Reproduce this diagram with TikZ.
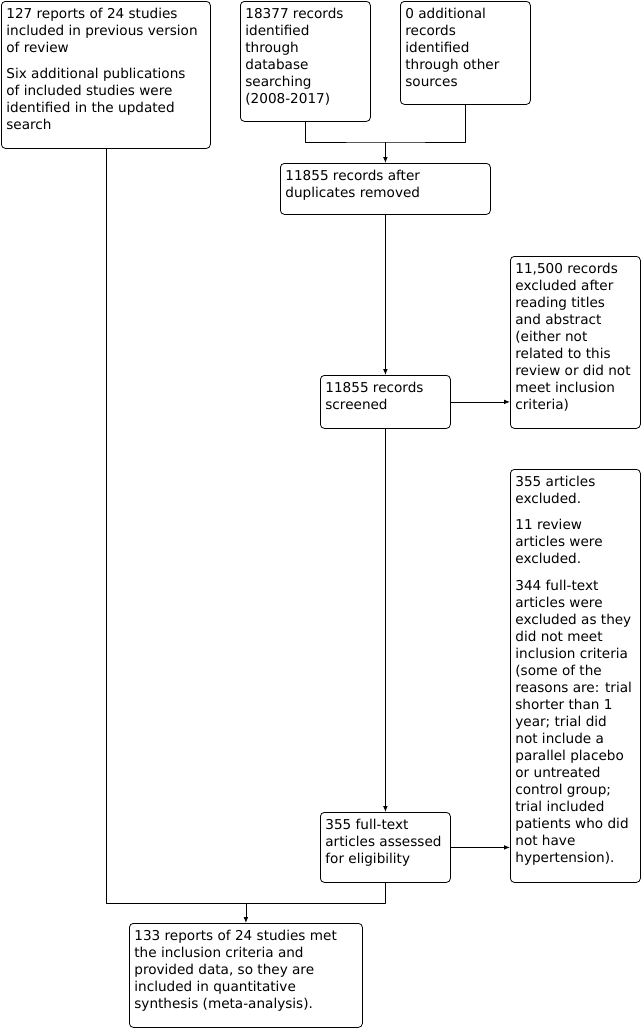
\documentclass[tikz,border=0pt]{standalone}
\usepackage{fontspec}
\setmainfont{DejaVu Sans}
\usetikzlibrary{arrows.meta}

% text of a box: width and height of the box in pixels
\newcommand{\flowtext}[3]{\parbox[t][\dimexpr0.75pt*#2-8pt\relax][t]{\dimexpr0.75pt*#1-7.5pt\relax}{\raggedright\strut #3}}

\begin{document}
\begin{tikzpicture}[x=0.75pt, y=-0.75pt, line join=round,
	flowbox/.style={draw, rounded corners=3pt, anchor=north west, inner xsep=3.75pt, inner ysep=4pt, line width=0.6pt,
		font=\fontsize{10.2pt}{12.75pt}\selectfont},
	flowline/.style={line width=0.6pt},
	flowarrow/.style={flowline, -{Latex[length=4.5pt, width=3.5pt]}}]
	\useasboundingbox (0,0) rectangle (642,1028);
	% Boxes of the flow
	\node[flowbox] (prev) at (1,1) {\flowtext{209}{147}{127 reports of 24 studies\\ included in previous version\\ of review\\[7pt]
		Six additional publications\\ of included studies were\\ identified in the updated\\ search}};
	\node[flowbox] (db) at (240,1) {\flowtext{130}{120}{18377 records\\ identified\\ through\\ database\\ searching\\ (2008-2017)}};
	\node[flowbox] (other) at (400,1) {\flowtext{130}{103}{0 additional\\ records\\ identified\\ through other\\ sources}};
	\node[flowbox] (dup) at (280,163) {\flowtext{210}{51}{11855 records after\\ duplicates removed}};
	\node[flowbox] (screen) at (320,375) {\flowtext{130}{53}{11855 records\\ screened}};
	\node[flowbox] (excl) at (510,256) {\flowtext{130}{172}{11,500 records\\ excluded after\\ reading titles\\ and abstract\\ (either not\\ related to this\\ review or did not\\ meet inclusion\\ criteria)}};
	\node[flowbox] (full) at (320,812) {\flowtext{130}{70}{355 full-text\\ articles assessed\\ for eligibility}};
	\node[flowbox] (fullexcl) at (510,469) {\flowtext{130}{413}{355 articles\\ excluded.\\[7pt]
		11 review\\ articles were\\ excluded.\\[7pt]
		344 full-text\\ articles were\\ excluded as they\\ did not meet\\ inclusion criteria\\ (some of the\\ reasons are: trial\\ shorter than 1\\ year; trial did\\ not include a\\ parallel placebo\\ or untreated\\ control group;\\ trial included\\ patients who did\\ not have\\ hypertension).}};
	\node[flowbox] (incl) at (129,923) {\flowtext{233}{104}{133 reports of 24 studies met\\ the inclusion criteria and\\ provided data, so they are\\ included in quantitative\\ synthesis (meta-analysis).}};
	% Join points of the connectors
	\path (dup.north) ++(0,-21) coordinate (srcjoin);
	\path (incl.north) ++(0,-20) coordinate (incljoin);
	% Connectors
	\draw[flowline] (db.south) |- (srcjoin) -| (other.south);
	\draw[flowarrow] (srcjoin) -- (dup.north);
	\draw[flowarrow] (dup.south) -- (dup.south |- screen.north);
	\draw[flowarrow] (screen.east) -- (screen.east -| excl.west);
	\draw[flowarrow] (screen.south) -- (screen.south |- full.north);
	\draw[flowarrow] (full.east) -- (full.east -| fullexcl.west);
	\draw[flowline] (prev.south) |- (incljoin) -| (full.south);
	\draw[flowarrow] (incljoin) -- (incl.north);
\end{tikzpicture}
\end{document}
